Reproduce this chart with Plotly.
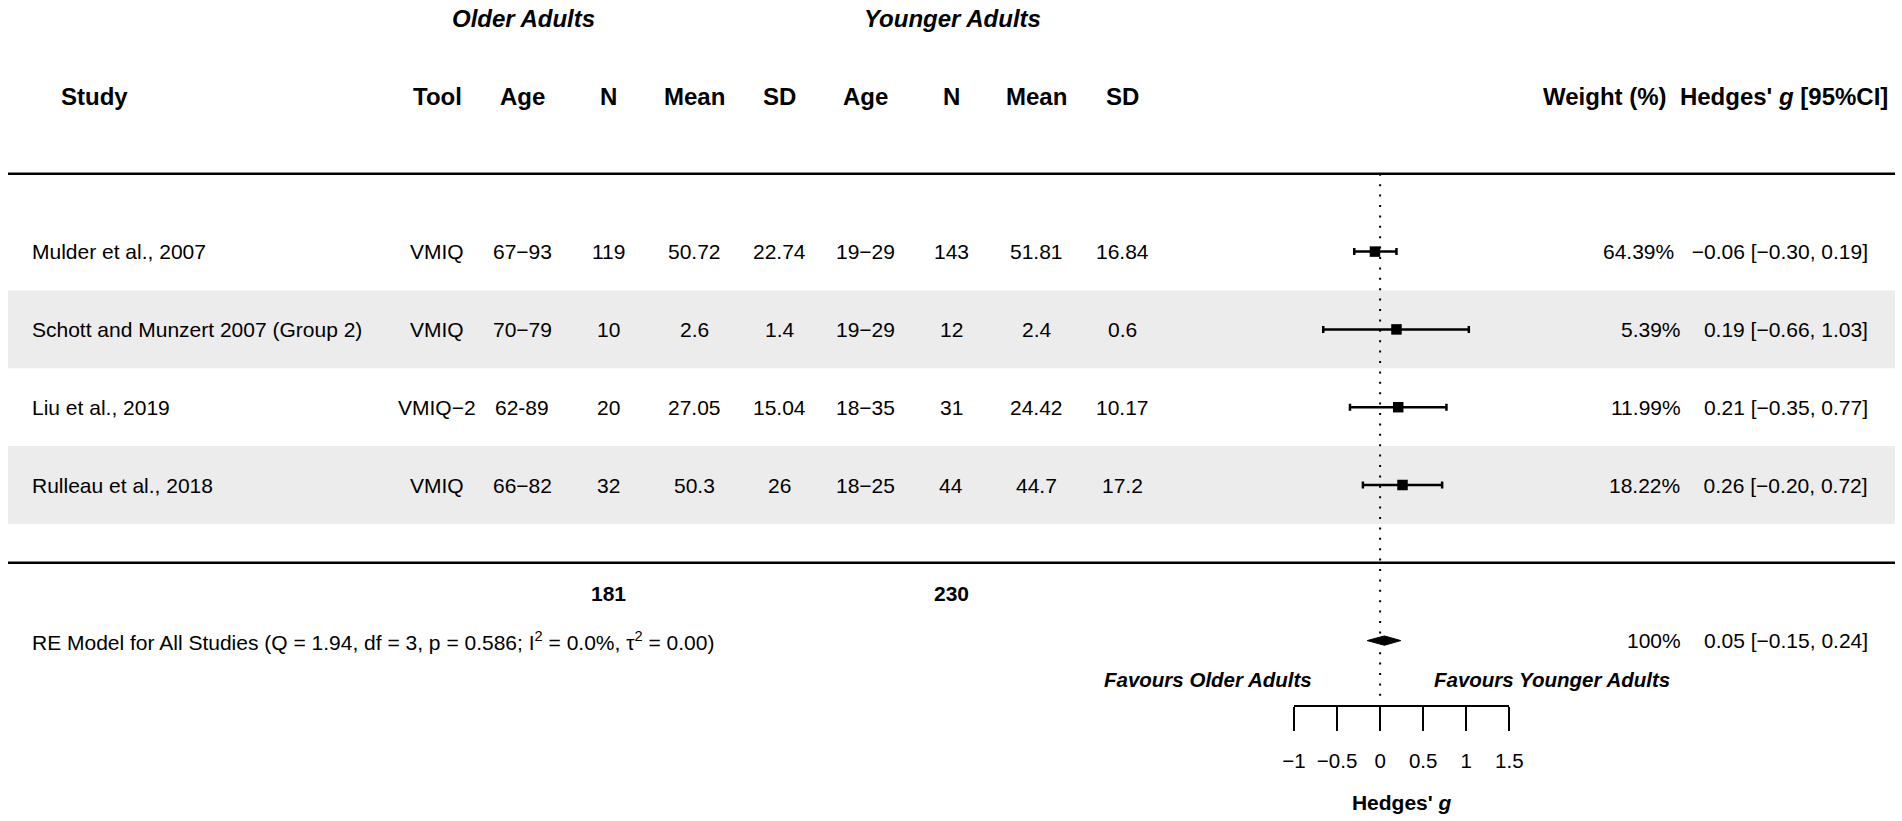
import plotly.graph_objects as go

# ---------------- data ----------------
studies = ["Mulder et al., 2007", "Schott and Munzert 2007 (Group 2)",
           "Liu et al., 2019", "Rulleau et al., 2018"]
tools = ["VMIQ", "VMIQ", "VMIQ\u22122", "VMIQ"]
older_age = ["67\u221293", "70\u221279", "62-89", "66\u221282"]
older_n = [119, 10, 20, 32]
older_mean = [50.72, 2.6, 27.05, 50.3]
older_sd = [22.74, 1.4, 15.04, 26]
young_age = ["19\u221229", "19\u221229", "18\u221235", "18\u221225"]
young_n = [143, 12, 31, 44]
young_mean = [51.81, 2.4, 24.42, 44.7]
young_sd = [16.84, 0.6, 10.17, 17.2]
weights = [64.39, 5.39, 11.99, 18.22]
hedges_g = [-0.06, 0.19, 0.21, 0.26]
ci_lo = [-0.30, -0.66, -0.35, -0.20]
ci_hi = [0.19, 1.03, 0.77, 0.72]

re_est, re_lo, re_hi = 0.05, -0.15, 0.24
re_Q, re_df, re_p, re_I2, re_tau2 = 1.94, 3, 0.586, 0.0, 0.00

axis_ticks = [-1, -0.5, 0, 0.5, 1, 1.5]

# ---------------- geometry / style ----------------
W, H = 1902, 821
FONT = "Liberation Sans, Arial, Helvetica, sans-serif"
BODY = 21
HEAD = 24
FAV = 20.5
NBSP = "\u00a0"

rows = [4, 3, 2, 1]          # row positions for the studies
Y_HEAD, Y_GROUP, Y_TOP, Y_BOT = 6, 7, 5, 0
Y_TOT, Y_RE, Y_FAV = -0.39, -1, -1.5

# pixel of y: 562.8 - 77.8*y
y_range = [(562.8 - H) / 77.8, 562.8 / 77.8]
axis_left_px, axis_right_px = 1294.0, 1509.3
axis_line_px = 706


def px(x):
    return x / W


def fmt(v):
    return f"{v:g}"


def fmt2(v):
    s = f"{v:.2f}"
    return s.replace("-", "\u2212")


def est_str(v):
    s = fmt2(v)
    return s if v < 0 else NBSP + s


fig = go.Figure()

# shaded bands for alternating rows
shapes = []
for i, r in enumerate(rows):
    if i % 2 == 1:
        shapes.append(dict(type="rect", xref="paper", yref="y",
                           x0=px(8), x1=px(1895), y0=r - 0.5, y1=r + 0.5,
                           fillcolor="#ececec", line=dict(width=0), layer="below"))
# horizontal rules
for yy in (Y_TOP, Y_BOT):
    shapes.append(dict(type="line", xref="paper", yref="y",
                       x0=px(8), x1=px(1895), y0=yy, y1=yy,
                       line=dict(color="black", width=2.5)))
# dotted reference line at 0
shapes.append(dict(type="line", xref="x", yref="y", x0=0, x1=0,
                   y0=Y_TOP, y1=-1.73,
                   line=dict(color="black", width=2, dash="2px,8.4px")))

# study estimates with CIs
fig.add_trace(go.Scatter(
    x=hedges_g, y=rows, mode="markers",
    marker=dict(symbol="square", size=10.5, color="black", line=dict(width=0)),
    error_x=dict(type="data", symmetric=False,
                 array=[h - g for h, g in zip(ci_hi, hedges_g)],
                 arrayminus=[g - l for g, l in zip(hedges_g, ci_lo)],
                 color="black", thickness=2.5, width=3.5),
    hoverinfo="skip", cliponaxis=False))

# summary diamond
dh = 0.06
fig.add_trace(go.Scatter(
    x=[re_lo, re_est, re_hi, re_est, re_lo],
    y=[Y_RE, Y_RE + dh, Y_RE, Y_RE - dh, Y_RE],
    mode="lines", fill="toself", fillcolor="black",
    line=dict(color="black", width=1), hoverinfo="skip"))

ann = []


def txt(xp, y, s, size=BODY, anchor="center"):
    ann.append(dict(xref="paper", yref="y", x=px(xp), y=y, text=s,
                    showarrow=False, xanchor=anchor, yanchor="middle",
                    font=dict(family=FONT, size=size, color="black")))


# group headers
txt(523.5, Y_GROUP, "<b><i>Older Adults</i></b>", HEAD)
txt(952.5, Y_GROUP, "<b><i>Younger Adults</i></b>", HEAD)

# column headers
col_px = [437, 522, 608, 694, 779.5, 865.5, 951, 1036.5, 1122.3]
headers = ["Tool", "Age", "N", "Mean", "SD", "Age", "N", "Mean", "SD"]
txt(59, Y_HEAD, "<b>Study</b>", HEAD, "left")
for cx, h in zip(col_px, headers):
    txt(cx, Y_HEAD, f"<b>{h}</b>", HEAD)
txt(1890, Y_HEAD, f"<b>Weight (%){NBSP}{NBSP}Hedges' <i>g</i> [95%CI]</b>", HEAD, "right")

# study rows
for i, r in enumerate(rows):
    txt(29.5, r, studies[i], BODY, "left")
    cols = [tools[i], older_age[i], str(older_n[i]), fmt(older_mean[i]), fmt(older_sd[i]),
            young_age[i], str(young_n[i]), fmt(young_mean[i]), fmt(young_sd[i])]
    for cx, s in zip(col_px, cols):
        txt(cx, r, s)
    right = (f"{weights[i]:.2f}%" + NBSP * 3 + est_str(hedges_g[i]) +
             f" [{fmt2(ci_lo[i])}, {fmt2(ci_hi[i])}]")
    txt(1870, r, right, BODY, "right")

# totals
txt(col_px[2], Y_TOT, f"<b>{sum(older_n)}</b>")
txt(col_px[6], Y_TOT, f"<b>{sum(young_n)}</b>")

# RE model row
txt(29.5, Y_RE, (f"RE Model for All Studies (Q = {re_Q:.2f}, df = {re_df}, p = {re_p:.3f}; "
                 f"I<sup>2</sup> = {re_I2:.1f}%, \u03c4<sup>2</sup> = {re_tau2:.2f})"), BODY, "left")
txt(1870, Y_RE, "100%" + NBSP * 3 + est_str(re_est) + f" [{fmt2(re_lo)}, {fmt2(re_hi)}]",
    BODY, "right")

# favours labels
txt(1314, Y_FAV, "<b><i>Favours Older Adults</i></b>", FAV, "right")
txt(1432, Y_FAV, "<b><i>Favours Younger Adults</i></b>", FAV, "left")

fig.update_layout(
    width=W, height=H, margin=dict(l=0, r=0, t=0, b=0, pad=0, autoexpand=False),
    paper_bgcolor="white", plot_bgcolor="rgba(0,0,0,0)",
    showlegend=False, shapes=shapes, annotations=ann,
    font=dict(family=FONT, color="black"),
    xaxis=dict(domain=[px(axis_left_px), px(axis_right_px)], range=[-1, 1.5],
               anchor="free", position=(H - axis_line_px) / H, automargin=False,
               showline=True, linecolor="black", linewidth=2,
               ticks="outside", ticklen=24, tickwidth=2, tickcolor="black",
               tickvals=axis_ticks, ticklabelstandoff=12,
               tickfont=dict(family=FONT, size=20.5, color="black"),
               showgrid=False, zeroline=False, fixedrange=True,
               title=dict(text="<b>Hedges' <i>g</i></b>", standoff=24,
                          font=dict(family=FONT, size=21, color="black"))),
    yaxis=dict(domain=[0, 1], range=y_range, visible=False, fixedrange=True,
               automargin=False),
)

fig.write_html("out.html", config={"responsive": False, "displayModeBar": False},
               post_script="document.body.style.margin='0';document.body.style.overflow='hidden';")
